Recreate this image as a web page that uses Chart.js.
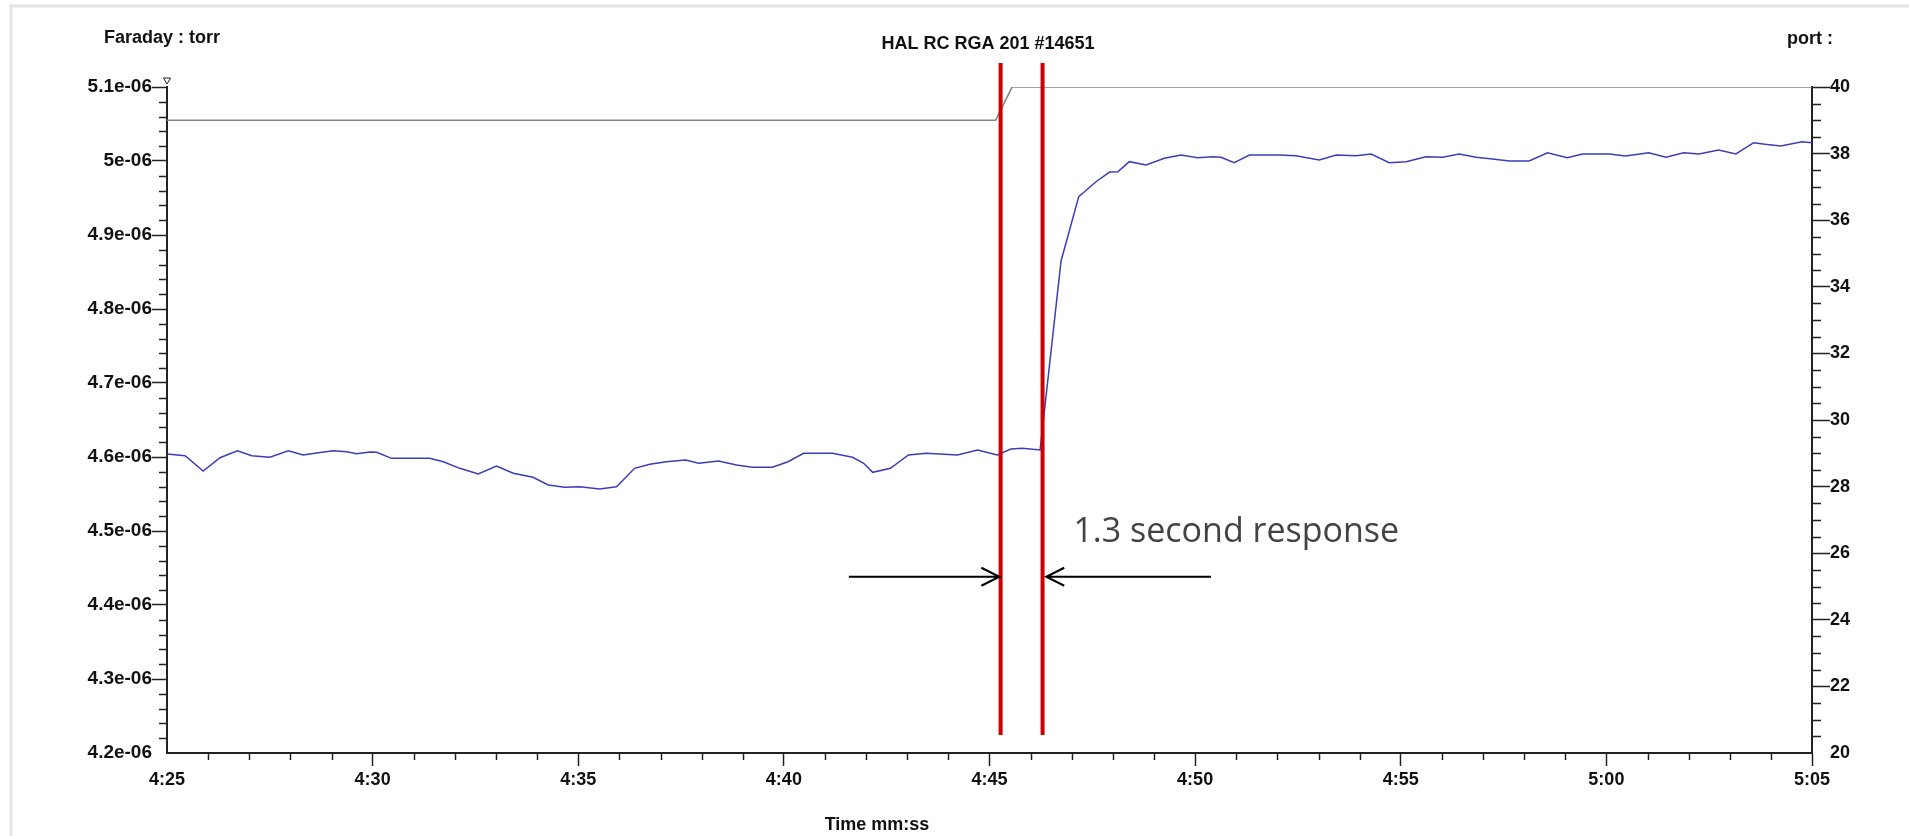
<!DOCTYPE html>
<html>
<head>
<meta charset="utf-8">
<script src="https://cdn.jsdelivr.net/npm/chart.js@4.4.1/dist/chart.umd.min.js"></script>
<style>
html,body{margin:0;padding:0;background:#fff;overflow:hidden}
#wrap{position:relative;width:1909px;height:836px}
</style>
</head>
<body>
<div id="wrap"><canvas id="c" width="1909" height="836"></canvas></div>
<script>
// ---- data (time in seconds after 4:25, Faraday pressure in units of 1e-6 torr) ----
const timeSeconds = [
  0.00, 0.44, 0.88, 1.29, 1.71, 2.06, 2.50, 2.95, 3.31, 3.68, 4.04, 4.37, 4.61, 4.93, 5.10, 5.46,
  5.91, 6.39, 6.72, 7.12, 7.57, 8.01, 8.42, 8.90, 9.27, 9.67, 10.04, 10.52, 10.93, 11.37, 11.74, 12.14,
  12.61, 12.93, 13.41, 13.85, 14.23, 14.72, 15.10, 15.48, 16.18, 16.67, 16.94, 17.16, 17.59, 18.03, 18.46, 19.22,
  19.71, 20.19, 20.52, 20.80, 21.23, 21.74, 22.17, 22.31, 22.59, 22.92, 23.12, 23.40, 23.81, 24.25, 24.66, 25.06,
  25.43, 25.63, 25.95, 26.32, 27.05, 27.45, 28.02, 28.43, 28.91, 29.28, 29.72, 30.13, 30.61, 31.02, 31.42, 31.83,
  32.23, 32.64, 33.12, 33.57, 34.05, 34.42, 35.08, 35.46, 36.03, 36.45, 36.88, 37.25, 37.73, 38.15, 38.58, 38.86,
  39.24, 39.76, 40.00
];
const faradayE6 = [
  4.6040, 4.6018, 4.5811, 4.5990, 4.6085, 4.6018, 4.5996, 4.6085, 4.6027, 4.6058, 4.6085, 4.6072, 4.6045, 4.6068, 4.6064, 4.5982,
  4.5982, 4.5982, 4.5936, 4.5847, 4.5770, 4.5878, 4.5780, 4.5726, 4.5622, 4.5591, 4.5599, 4.5568, 4.5599, 4.5847, 4.5901, 4.5936,
  4.5959, 4.5915, 4.5946, 4.5892, 4.5861, 4.5861, 4.5936, 4.6050, 4.6050, 4.5996, 4.5915, 4.5793, 4.5847, 4.6027, 4.6050, 4.6027,
  4.6095, 4.6027, 4.6108, 4.6118, 4.6095, 4.8649, 4.9518, 4.9585, 4.9720, 4.9850, 4.9855, 4.9991, 4.9946, 5.0036, 5.0081, 5.0045,
  5.0058, 5.0050, 4.9977, 5.0081, 5.0081, 5.0072, 5.0014, 5.0081, 5.0072, 5.0095, 4.9977, 4.9991, 5.0058, 5.0050, 5.0095, 5.0050,
  5.0027, 5.0000, 5.0000, 5.0112, 5.0045, 5.0095, 5.0095, 5.0068, 5.0112, 5.0050, 5.0112, 5.0095, 5.0149, 5.0095, 5.0247, 5.0226,
  5.0203, 5.0261, 5.0247
];
const portTimes = [0, 20.15, 20.55, 40];
const portValues = [39, 39, 40, 40];

// axis ranges / tick steps
const xRange = [0, 40];          // 4:25 .. 5:05
const xStartSeconds = 265;       // 4:25
const leftRange = [4.2, 5.1];    // e-06 torr
const rightRange = [20, 40];     // port

// annotations (in data units)
const markerTimes = [20.27, 21.29];          // red vertical lines
const markerValueSpan = [4.2243, 5.1324];    // bottom / top (left axis units)
const arrowLeft = [16.58, 20.24];            // tail -> tip
const arrowRight = [25.385, 21.38];          // tail -> tip
const arrowValue = 4.4382;
const noteText = '1.3 second response';
const notePos = [22.04, 4.4851];

const TXT = '#111';
const AX = '#222';
const boldFont = (s) => ({family: "'Liberation Sans', Arial, sans-serif", weight: 'bold', size: s});

function fmtTime(v) {
  const t = Math.round(xStartSeconds + v);
  const m = Math.floor(t / 60), s = t % 60;
  return m + ':' + String(s).padStart(2, '0');
}
function fmtE(v) {
  return String(Math.round(v * 10) / 10) + 'e-06';
}

const decorPlugin = {
  id: 'decor',
  beforeDraw(chart) {
    const ctx = chart.ctx;
    ctx.save();
    ctx.fillStyle = '#fff';
    ctx.fillRect(0, 0, chart.width, chart.height);
    ctx.strokeStyle = '#e4e4e4';
    ctx.lineWidth = 3;
    ctx.beginPath();
    ctx.moveTo(11, 840); ctx.lineTo(11, 6); ctx.lineTo(1909, 6);
    ctx.stroke();
    ctx.restore();
  },
  afterDraw(chart) {
    const ctx = chart.ctx;
    const x = chart.scales.x, y = chart.scales.y, y1 = chart.scales.y1;
    const ca = chart.chartArea;
    ctx.save();
    // minor ticks
    ctx.strokeStyle = AX;
    ctx.lineWidth = 1.5;
    ctx.beginPath();
    for (let i = 1; i < 45; i++) {
      if (i % 5 === 0) continue;
      const py = Math.round(y.getPixelForValue(leftRange[0] + i * 0.02)) + 0.5;
      ctx.moveTo(ca.left - 8, py); ctx.lineTo(ca.left, py);
    }
    for (let i = 1; i < 40; i++) {
      if (i % 4 === 0) continue;
      const py = Math.round(y1.getPixelForValue(rightRange[0] + i * 0.5)) + 0.5;
      ctx.moveTo(ca.right, py); ctx.lineTo(ca.right + 9, py);
    }
    for (let i = 1; i < 40; i++) {
      if (i % 5 === 0) continue;
      const px = Math.round(x.getPixelForValue(i)) + 0.5;
      ctx.moveTo(px, ca.bottom); ctx.lineTo(px, ca.bottom + 7);
    }
    ctx.stroke();

    // small open triangle at top of left axis
    ctx.lineWidth = 1;
    ctx.beginPath();
    ctx.moveTo(ca.left - 3.5, ca.top - 9);
    ctx.lineTo(ca.left + 3.5, ca.top - 9);
    ctx.lineTo(ca.left, ca.top - 3);
    ctx.closePath();
    ctx.stroke();

    // red marker lines
    ctx.strokeStyle = '#cc0000';
    ctx.lineWidth = 4;
    ctx.beginPath();
    markerTimes.forEach(t => {
      const px = x.getPixelForValue(t);
      ctx.moveTo(px, y.getPixelForValue(markerValueSpan[1]));
      ctx.lineTo(px, y.getPixelForValue(markerValueSpan[0]));
    });
    ctx.stroke();

    // arrows
    ctx.strokeStyle = '#000';
    ctx.lineWidth = 2;
    const ay = y.getPixelForValue(arrowValue);
    [arrowLeft, arrowRight].forEach(a => {
      const tx = x.getPixelForValue(a[0]);
      const hx = x.getPixelForValue(a[1]);
      const dir = hx > tx ? 1 : -1;
      ctx.beginPath();
      ctx.moveTo(tx, ay); ctx.lineTo(hx, ay);
      ctx.moveTo(hx - dir * 18, ay - 9); ctx.lineTo(hx, ay); ctx.lineTo(hx - dir * 18, ay + 9);
      ctx.stroke();
    });

    // note text
    ctx.fillStyle = '#434343';
    ctx.font = "34px 'Open Sans', sans-serif";
    ctx.textAlign = 'left';
    ctx.textBaseline = 'alphabetic';
    ctx.fillText(noteText, x.getPixelForValue(notePos[0]), y.getPixelForValue(notePos[1]));

    // header / axis titles
    ctx.fillStyle = TXT;
    ctx.font = "bold 18px 'Liberation Sans', Arial, sans-serif";
    ctx.textBaseline = 'middle';
    ctx.textAlign = 'left';
    ctx.fillText('Faraday : torr', 104, 38);
    ctx.fillText('port :', 1787, 39);
    ctx.textAlign = 'center';
    ctx.fillText('HAL RC RGA 201 #14651', 988, 44);
    ctx.fillText('Time mm:ss', 877, 825);
    ctx.restore();
  }
};

const chart = new Chart(document.getElementById('c'), {
  type: 'line',
  data: {
    datasets: [
      {
        label: 'Faraday',
        data: timeSeconds.map((t, i) => ({x: t, y: faradayE6[i]})),
        yAxisID: 'y',
        borderColor: '#3d3db8',
        borderWidth: 1.5,
        pointRadius: 0,
        tension: 0,
        fill: false
      },
      {
        label: 'port',
        data: portTimes.map((t, i) => ({x: t, y: portValues[i]})),
        yAxisID: 'y1',
        borderColor: '#858585',
        borderWidth: 1.6,
        pointRadius: 0,
        tension: 0,
        fill: false
      }
    ]
  },
  options: {
    responsive: false,
    animation: false,
    devicePixelRatio: 1,
    layout: {padding: {top: 87, left: 0, right: 0, bottom: 0}},
    plugins: {legend: {display: false}, title: {display: false}, tooltip: {enabled: false}},
    scales: {
      x: {
        type: 'linear', position: 'bottom', min: xRange[0], max: xRange[1],
        afterFit: s => { s.height = 83; },
        ticks: {stepSize: 5, autoSkip: false, maxRotation: 0, padding: 3, color: TXT, font: boldFont(18), callback: v => fmtTime(v)},
        grid: {drawOnChartArea: false, drawTicks: true, tickLength: 13, tickWidth: 1.5,
               tickColor: c => c.index === 0 ? 'rgba(0,0,0,0)' : AX},
        border: {display: true, color: AX, width: 2}
      },
      y: {
        type: 'linear', position: 'left', min: leftRange[0], max: leftRange[1],
        afterFit: s => { s.width = 167; },
        ticks: {stepSize: 0.1, autoSkip: false, padding: 0, color: TXT, font: boldFont(19), callback: v => fmtE(v)},
        grid: {drawOnChartArea: false, drawTicks: true, tickLength: 15, tickWidth: 1.5,
               tickColor: c => c.index === 0 ? 'rgba(0,0,0,0)' : AX},
        border: {display: true, color: AX, width: 2}
      },
      y1: {
        type: 'linear', position: 'right', min: rightRange[0], max: rightRange[1],
        afterFit: s => { s.width = 97; },
        ticks: {stepSize: 2, autoSkip: false, padding: 0, color: TXT, font: boldFont(18)},
        grid: {drawOnChartArea: false, drawTicks: true, tickLength: 18, tickWidth: 1.5,
               tickColor: c => c.index === 0 ? 'rgba(0,0,0,0)' : AX},
        border: {display: true, color: AX, width: 2}
      }
    }
  },
  plugins: [decorPlugin]
});
</script>
</body>
</html>
